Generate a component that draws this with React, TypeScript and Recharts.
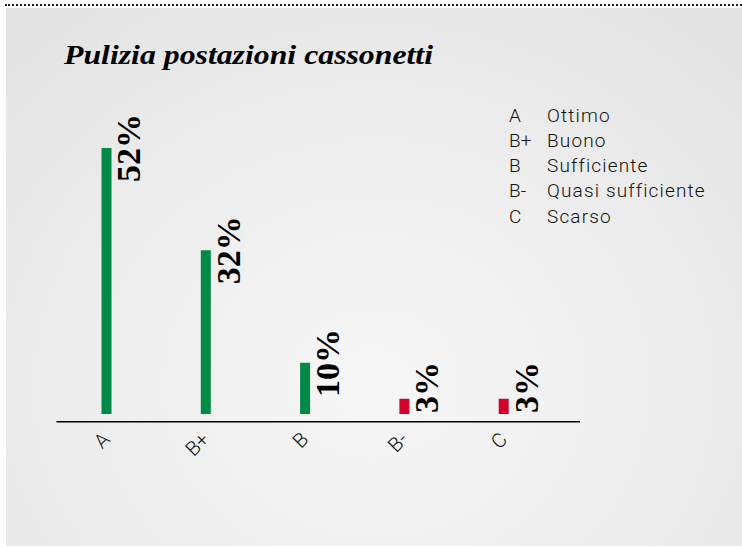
import React from 'react';
import { BarChart, Bar, XAxis, YAxis, Cell, LabelList } from 'recharts';

const grades = ['A', 'B+', 'B', 'B-', 'C'];
const percentages = [52, 32, 10, 3, 3];
const barColors = ['#008a45', '#008a45', '#008a45', '#d5002b', '#d5002b'];
const legendCodes = ['A', 'B+', 'B', 'B-', 'C'];
const legendLabels = ['Ottimo', 'Buono', 'Sufficiente', 'Quasi sufficiente', 'Scarso'];
const title = 'Pulizia postazioni cassonetti';

const data = grades.map((g, i) => ({ grade: g, value: percentages[i] }));

const LABEL_FONT = 34;
const SANS = 'Roboto, "Liberation Sans", Arial, sans-serif';

const ValueLabel = (props: any) => {
  const { x, y, width, height, value } = props;
  const text = `${value}%`;
  const digits = String(value).length;
  const estLen = (digits * 0.5 + 1.0) * LABEL_FONT;
  const base = y + height;
  const cy = Math.min(y, base - estLen / 2 - 1);
  const cx = x + width + 29;
  return (
    <text
      x={cx}
      y={cy}
      transform={`rotate(-90, ${cx}, ${cy})`}
      textAnchor="middle"
      fontFamily='"Liberation Serif", "Times New Roman", serif'
      fontWeight="bold"
      fontSize={LABEL_FONT}
      fill="#000"
    >
      {text}
    </text>
  );
};

const GradeTick = (props: any) => {
  const { x, y, payload } = props;
  return (
    <g transform={`translate(${x + 5}, ${y + 19})`}>
      <text
        x={0}
        y={0}
        textAnchor="end"
        transform="rotate(-45)"
        fontFamily={SANS}
        fontWeight={300}
        fontSize={20}
        fill="#111"
      >
        {payload.value}
      </text>
    </g>
  );
};

export default function App() {
  return (
    <div
      style={{
        position: 'absolute',
        left: 0,
        top: 0,
        width: 742,
        height: 548,
        background: '#fff',
        overflow: 'hidden',
      }}
    >
      <div
        style={{
          position: 'absolute',
          left: 5,
          top: 4,
          width: 737,
          height: 0,
          borderTop: '2px dotted #222',
        }}
      />
      <div
        style={{
          position: 'absolute',
          left: 6,
          top: 8,
          width: 736,
          height: 538,
          background:
            'radial-gradient(ellipse 70% 85% at 50% 70%, #f6f6f6 0%, #f0f0f0 40%, #e4e4e4 100%)',
        }}
      />
      <svg
        width={742}
        height={240}
        style={{ position: 'absolute', left: 0, top: 0 }}
      >
        <text
          x={64}
          y={64}
          fontFamily='"Liberation Serif", "Times New Roman", serif'
          fontStyle="italic"
          fontWeight="bold"
          fontSize={28}
          textLength={369}
          lengthAdjust="spacingAndGlyphs"
          fill="#000"
        >
          {title}
        </text>
        {legendCodes.map((code, i) => (
          <g key={code}>
            <text
              x={509}
              y={121.7 + i * 25.2}
              fontFamily={SANS}
              fontWeight={300}
              fontSize={19}
              fill="#111"
            >
              {code}
            </text>
            <text
              x={547}
              y={121.7 + i * 25.2}
              fontFamily={SANS}
              fontWeight={300}
              fontSize={19}
              letterSpacing={1.15}
              fill="#111"
            >
              {legendLabels[i]}
            </text>
          </g>
        ))}
      </svg>
      <div style={{ position: 'absolute', left: 0, top: 0 }}>
        <BarChart
          width={742}
          height={548}
          data={data}
          margin={{ top: 107.1, right: 162, bottom: 96.3, left: 56.5 }}
        >
          <YAxis hide type="number" domain={[-1.5, 60]} allowDataOverflow />
          <XAxis
            dataKey="grade"
            interval={0}
            tickLine={false}
            tickSize={0}
            tickMargin={0}
            padding={{ left: 0, right: 27 }}
            axisLine={{ stroke: '#000', strokeWidth: 1.6 }}
            tick={<GradeTick />}
          />
          <Bar dataKey="value" barSize={10} isAnimationActive={false}>
            {data.map((d, i) => (
              <Cell key={d.grade} fill={barColors[i]} />
            ))}
            <LabelList dataKey="value" content={<ValueLabel />} />
          </Bar>
        </BarChart>
      </div>
    </div>
  );
}
